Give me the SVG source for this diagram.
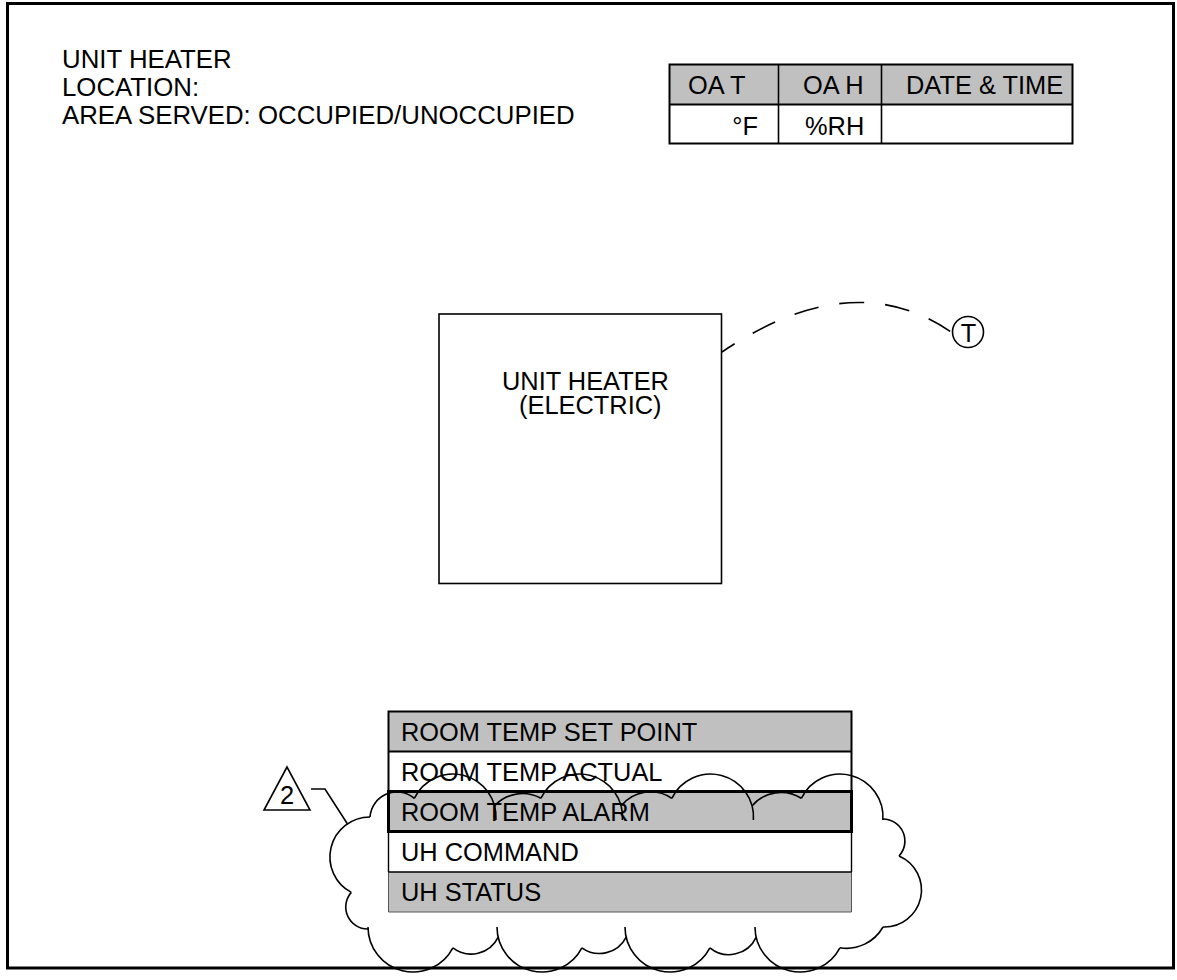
<svg xmlns="http://www.w3.org/2000/svg" width="1177" height="980" viewBox="0 0 1177 980">
<style>
text{font-family:"Liberation Sans",Arial,sans-serif;font-size:25.4px;fill:#000}
.hd{font-size:25.8px}
.ln{fill:none;stroke:#000;stroke-width:1.6}
.gray{fill:#c0c0c0}
.white{fill:#fff}
</style>
<rect x="0" y="0" width="1177" height="980" fill="#fff"/>
<rect x="7.5" y="3.5" width="1166" height="964.5" fill="none" stroke="#000" stroke-width="3"/>
<g id="title">
<text class="hd" x="62" y="68">UNIT HEATER</text>
<text class="hd" x="62" y="96">LOCATION:</text>
<text class="hd" x="62" y="124">AREA SERVED: OCCUPIED/UNOCCUPIED</text>
</g>
<g id="oa-table">
<rect class="gray" x="669.5" y="64.5" width="403" height="40"/>
<rect class="white" x="669.5" y="104.5" width="403" height="39"/>
<rect x="669.5" y="64.5" width="403" height="79" fill="none" stroke="#000" stroke-width="2"/>
<line x1="669.5" y1="104.5" x2="1072.5" y2="104.5" stroke="#000" stroke-width="2"/>
<line x1="778.5" y1="64.5" x2="778.5" y2="143.5" stroke="#000" stroke-width="1.6"/>
<line x1="881.5" y1="64.5" x2="881.5" y2="143.5" stroke="#000" stroke-width="1.6"/>
<text x="688" y="94">OA T</text>
<text x="803" y="94">OA H</text>
<text x="906" y="94">DATE &amp; TIME</text>
<text x="758" y="135" text-anchor="end">°F</text>
<text x="805" y="135">%RH</text>
</g>
<g id="unit-heater">
<rect x="439" y="314" width="282.5" height="269.5" fill="none" stroke="#000" stroke-width="1.6"/>
<text x="502" y="390">UNIT HEATER</text>
<text x="519" y="414">(ELECTRIC)</text>
</g>
<g id="thermostat">
<circle cx="968" cy="332" r="15.5" fill="none" stroke="#000" stroke-width="1.6"/>
<text x="968.5" y="341.5" text-anchor="middle">T</text>
</g>
<g id="connectors">
<path class="ln" d="M722,352 Q853,263.5 952.5,333" stroke-dasharray="25 21" stroke-dashoffset="10"/>
</g>
<g id="points-table">
<rect class="gray" x="388.5" y="711.5" width="463" height="40"/>
<rect class="white" x="388.5" y="751.5" width="463" height="40"/>
<rect class="gray" x="388.5" y="791.5" width="463" height="40"/>
<rect class="white" x="388.5" y="831.5" width="463" height="40.5"/>
<rect class="gray" x="388.5" y="872" width="463" height="40"/>
<path d="M388.5,912 V872 M851.5,872 V912 M388.5,912 H851.5" fill="none" stroke="#555" stroke-width="1"/>
<path d="M388.5,872 V831.5 M851.5,831.5 V872 M388.5,872 H851.5" fill="none" stroke="#000" stroke-width="1.4"/>
<rect x="388.5" y="711.5" width="463" height="80" fill="none" stroke="#000" stroke-width="2"/>
<line x1="388.5" y1="751.5" x2="851.5" y2="751.5" stroke="#000" stroke-width="2"/>
<rect x="388.5" y="791.5" width="463" height="40" fill="none" stroke="#000" stroke-width="3"/>
<text x="401" y="740.5">ROOM TEMP SET POINT</text>
<text x="401" y="780.5">ROOM TEMP ACTUAL</text>
<text x="401" y="820.5">ROOM TEMP ALARM</text>
<text x="401" y="860.7">UH COMMAND</text>
<text x="401" y="900.8">UH STATUS</text>
</g>
<g id="revision-2">
<path class="ln" d="M287,767 L264,810 L310,810 Z"/>
<text x="287" y="803.5" text-anchor="middle">2</text>
<path class="ln" d="M311,789 L325,789 L347.5,824"/>
</g>
<g id="revision-cloud" class="ln">
<path d="M370,817 A40,40 0 0 0 351.3,892.4"/>
<path d="M351.3,892.4 A22,22 0 0 0 368,929"/>
<path d="M368,927 A45,45 0 0 0 452.9,947.8"/>
<path d="M452.9,947.8 A30,30 0 0 0 498.2,937.1"/>
<path d="M497,927 A45,45 0 0 0 581.9,947.8"/>
<path d="M581.9,947.8 A30,30 0 0 0 626.2,937.1"/>
<path d="M625,927 A45,45 0 0 0 709.9,947.8"/>
<path d="M709.9,947.8 A30,30 0 0 0 756.2,937.1"/>
<path d="M755,927 A45,45 0 0 0 839.9,947.8"/>
<path d="M839.9,947.8 A42,42 0 0 0 883,927"/>
<path d="M899,856 A37,37 0 0 1 883,927"/>
<path d="M883,819 A22,22 0 0 1 899,856"/>
<path d="M801.3,798.3 A43,43 0 0 1 882.9,820"/>
<path d="M752,805.9 A38,38 0 0 1 801.3,798.3"/>
<path d="M671.8,798.3 A43,43 0 0 1 753.4,820"/>
<path d="M621,805.9 A38,38 0 0 1 671.8,798.3"/>
<path d="M540.8,798.3 A43,43 0 0 1 622.4,820"/>
<path d="M494.5,805.9 A38,38 0 0 1 540.8,798.3"/>
<path d="M414.3,798.3 A43,43 0 0 1 495.9,820"/>
<path d="M370,817 A27,27 0 0 1 414.3,798.3"/>
</g>
</svg>
